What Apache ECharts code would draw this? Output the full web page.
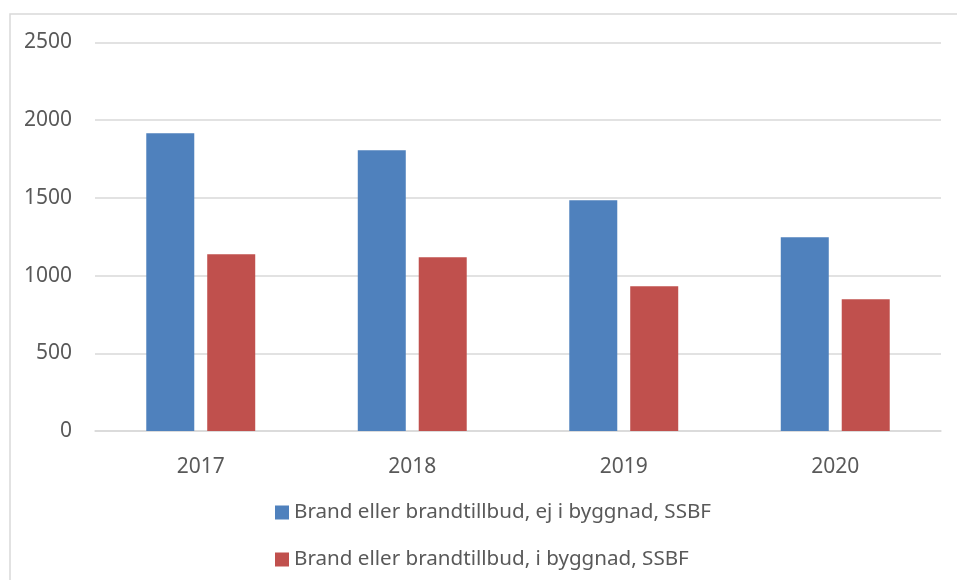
<!DOCTYPE html>
<html>
<head>
<meta charset="utf-8">
<script src="https://cdn.jsdelivr.net/npm/echarts@6/dist/echarts.min.js"></script>
<style>
  html, body { margin: 0; padding: 0; background: #fff; }
  #chart { width: 957px; height: 580px; }
</style>
</head>
<body>
<div id="chart"></div>
<script>
// data
var years = ['2017', '2018', '2019', '2020'];
var ejIByggnad = [1916, 1807, 1485, 1247];
var iByggnad = [1137, 1118, 931, 848];
var seriesNames = [
  'Brand eller brandtillbud, ej i byggnad, SSBF',
  'Brand eller brandtillbud, i byggnad, SSBF'
];

var chart = echarts.init(document.getElementById('chart'));
var font = 'Noto Sans';

var option = {
  animation: false,
  textStyle: { fontFamily: font },
  graphic: [{
    type: 'rect',
    shape: { x: 10, y: 14, width: 1000, height: 700 },
    style: { fill: 'none', stroke: '#d9d9d9', lineWidth: 1.5 },
    silent: true
  }],
  grid: {
    left: 95,
    right: 16,
    top: 42.5,
    bottom: 149
  },
  legend: {
    orient: 'vertical',
    left: 270,
    top: 497,
    itemWidth: 14,
    itemHeight: 14,
    itemGap: 26,
    icon: 'rect',
    textStyle: { fontFamily: font, fontSize: 20.6, color: '#595959', lineHeight: 21 },
    data: seriesNames
  },
  xAxis: {
    type: 'category',
    data: years,
    axisTick: { show: false },
    axisLine: { lineStyle: { color: '#d9d9d9', width: 1.5 } },
    axisLabel: { color: '#595959', fontSize: 21, margin: 26, fontFamily: font }
  },
  yAxis: {
    type: 'value',
    min: 0,
    max: 2500,
    interval: 500,
    axisLine: { show: false },
    axisTick: { show: false },
    splitLine: { lineStyle: { color: '#d9d9d9', width: 1.5 } },
    axisLabel: {
      color: '#595959', fontSize: 21, margin: 23, fontFamily: font,
      formatter: function (v) { return String(v); }
    }
  },
  series: [{
    name: seriesNames[0],
    type: 'bar',
    data: ejIByggnad,
    barWidth: 48,
    barGap: '27%',
    itemStyle: { color: '#4f81bd' }
  }, {
    name: seriesNames[1],
    type: 'bar',
    data: iByggnad,
    barWidth: 48,
    itemStyle: { color: '#c0504d' }
  }]
};

chart.setOption(option);
</script>
</body>
</html>
